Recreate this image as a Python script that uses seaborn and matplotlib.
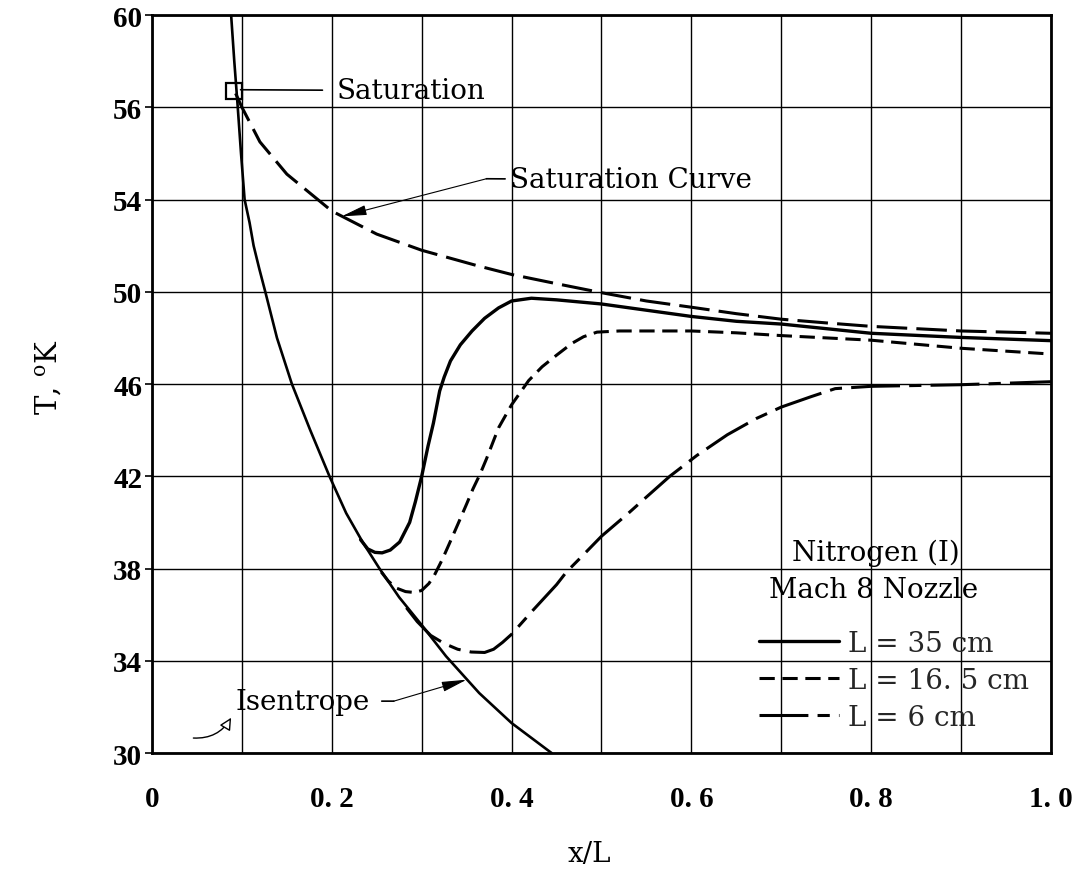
import numpy as np
import pandas as pd
import matplotlib
matplotlib.use("Agg")
import matplotlib.pyplot as plt
from matplotlib.ticker import MultipleLocator
import seaborn as sns

# ---- data: x/L and temperature (K) along each curve -----------------------
isen_x = [0.0880, 0.0915, 0.0950, 0.0990, 0.1030, 0.1085, 0.1130, 0.1193,
          0.1260, 0.1390, 0.1556, 0.1760, 0.1974, 0.2160, 0.2344, 0.2530,
          0.2750, 0.3000, 0.3270, 0.3640, 0.4000, 0.4445]
isen_T = [62.0, 60.0, 58.2, 56.0, 54.0, 53.0, 52.0, 51.0,
          50.0, 48.0, 46.0, 44.0, 42.0, 40.4, 39.14, 38.0,
          36.75, 35.55, 34.2, 32.6, 31.3, 30.0]

sat_x = [0.093, 0.100, 0.120, 0.150, 0.200, 0.250, 0.300, 0.360, 0.400,
         0.450, 0.500, 0.550, 0.600, 0.650, 0.700, 0.750, 0.800, 0.900, 1.000]
sat_T = [58.6, 58.0, 56.5, 55.1, 53.5, 52.5, 51.8, 51.15, 50.75,
         50.35, 49.96, 49.6, 49.33, 49.05, 48.81, 48.65, 48.5, 48.3, 48.2]

l35_x = [0.232, 0.240, 0.248, 0.256, 0.265, 0.2755, 0.2866, 0.293, 0.300,
         0.307, 0.313, 0.320, 0.325, 0.332, 0.343, 0.356, 0.370, 0.3855,
         0.400, 0.422, 0.450, 0.500, 0.550, 0.600, 0.650, 0.700, 0.750,
         0.800, 0.900, 1.000]
l35_T = [39.25, 38.85, 38.7, 38.68, 38.8, 39.15, 40.0, 40.9, 42.0,
         43.3, 44.3, 45.7, 46.3, 47.0, 47.7, 48.3, 48.85, 49.3,
         49.6, 49.72, 49.65, 49.47, 49.2, 48.93, 48.72, 48.6, 48.4,
         48.2, 48.02, 47.88]

l165_x = [0.255, 0.263, 0.272, 0.282, 0.292, 0.300, 0.308, 0.314, 0.323,
          0.331, 0.340, 0.350, 0.357, 0.365, 0.372, 0.3855, 0.400, 0.419,
          0.434, 0.450, 0.467, 0.480, 0.495, 0.520, 0.600, 0.650, 0.700,
          0.800, 0.900, 1.000]
l165_T = [37.85, 37.45, 37.15, 37.0, 36.96, 37.05, 37.35, 37.7, 38.4,
          39.1, 39.9, 40.8, 41.45, 42.1, 42.75, 44.1, 45.1, 46.15,
          46.75, 47.25, 47.76, 48.05, 48.25, 48.3, 48.3, 48.22, 48.1,
          47.9, 47.55, 47.3]

l6_x = [0.283, 0.295, 0.310, 0.325, 0.340, 0.355, 0.370, 0.380, 0.390,
        0.400, 0.424, 0.450, 0.461, 0.475, 0.500, 0.530, 0.550, 0.576,
        0.606, 0.640, 0.672, 0.700, 0.733, 0.760, 0.800, 0.900, 1.000]
l6_T = [36.3, 35.7, 35.1, 34.75, 34.5, 34.38, 34.36, 34.5, 34.8,
        35.15, 36.2, 37.3, 37.85, 38.4, 39.4, 40.4, 41.1, 42.0,
        42.9, 43.8, 44.5, 45.0, 45.45, 45.8, 45.9, 45.97, 46.1]

# onset of condensation on the isentrope
sat_onset_x = [0.0916]
sat_onset_T = [58.72]

x_ticks = [0.0, 0.2, 0.4, 0.6, 0.8, 1.0]
x_ticklabels = ["0", "0. 2", "0. 4", "0. 6", "0. 8", "1. 0"]
y_ticks = [30, 34, 38, 42, 46, 50, 54, 58, 62]
y_ticklabels = ["30", "34", "38", "42", "46", "50", "54", "56", "60"]
series_labels = ["L = 35 cm", "L = 16. 5 cm", "L = 6 cm"]

# ---- style ------------------------------------------------------------------
sns.set_theme(style="white")
plt.rcParams["font.family"] = ["DejaVu Serif"]
plt.rcParams["mathtext.fontset"] = "dejavuserif"

fig = plt.figure(figsize=(10.82, 8.70), dpi=100)
ax = fig.add_axes([0.1405, 0.1333, 0.8308, 0.8483])

ax.set_xlim(0, 1.0)
ax.set_ylim(30, 62)

ax.set_xticks(x_ticks)
ax.set_xticklabels(x_ticklabels)
ax.xaxis.set_minor_locator(MultipleLocator(0.1))
ax.set_yticks(y_ticks)
ax.set_yticklabels(y_ticklabels)
for lab in ax.get_xticklabels() + ax.get_yticklabels():
    lab.set_fontfamily("Liberation Serif")
    lab.set_fontweight("bold")
    lab.set_fontsize(21)
ax.tick_params(axis="x", which="both", length=0, pad=23, colors="black")
ax.tick_params(axis="y", which="major", length=5, width=1.2, pad=2,
               direction="out", left=True, colors="black")

ax.grid(which="both", color="black", linewidth=1.0)
ax.set_axisbelow(True)
for sp in ax.spines.values():
    sp.set_color("black")
    sp.set_linewidth(2.0)


def draw(x, y, **kw):
    sns.lineplot(x=x, y=y, ax=ax, color="black", estimator=None,
                 sort=False, **kw)
    return ax.lines[-1]


draw(isen_x, isen_T, linewidth=1.9, linestyle="-")
draw(sat_x, sat_T, linewidth=2.2, linestyle=(0, (10, 3)))
h35 = draw(l35_x, l35_T, linewidth=2.4, linestyle="-")
h165 = draw(l165_x, l165_T, linewidth=2.2, linestyle=(0, (5, 2.5)))
h6 = draw(l6_x, l6_T, linewidth=2.2, linestyle=(0, (16, 3, 4, 3)))

ax.plot(sat_onset_x, sat_onset_T, marker="s", ms=12, mfc="none",
        mec="black", mew=1.6, linestyle="none")

txt = dict(fontsize=20, color="black")

# "Saturation" call-out
ax.annotate("Saturation", xy=(0.0985, sat_onset_T[0] + 0.04),
            xytext=(0.2056, sat_onset_T[0]), ha="left", va="center",
            arrowprops=dict(arrowstyle="-", lw=1.2, color="black",
                            shrinkA=8, shrinkB=0), **txt)

# "Saturation Curve" call-out
ax.annotate("Saturation Curve", xy=(0.372, 54.9), xytext=(0.398, 54.86),
            ha="left", va="center",
            arrowprops=dict(arrowstyle="-", lw=1.2, color="black",
                            shrinkA=1, shrinkB=0), **txt)
ax.annotate("", xy=(0.211, 53.27), xytext=(0.372, 54.9),
            arrowprops=dict(arrowstyle="-|>,head_length=1.1,head_width=0.22",
                            lw=0.8, color="black", mutation_scale=14,
                            shrinkA=0, shrinkB=0))

# "Isentrope" call-out
ax.annotate("Isentrope", xy=(0.269, 32.25), xytext=(0.0933, 32.25),
            ha="left", va="center",
            arrowprops=dict(arrowstyle="-", lw=1.2, color="black",
                            shrinkA=6, shrinkB=0), **txt)
ax.annotate("", xy=(0.350, 33.18), xytext=(0.269, 32.25),
            arrowprops=dict(arrowstyle="-|>,head_length=1.1,head_width=0.22",
                            lw=0.8, color="black", mutation_scale=14,
                            shrinkA=0, shrinkB=0))

# small pointer near the origin
ax.annotate("", xy=(0.088, 31.53), xytext=(0.046, 30.65),
            arrowprops=dict(arrowstyle="-|>,head_length=0.6,head_width=0.3",
                            fc="white", ec="black", lw=1.0,
                            mutation_scale=12,
                            connectionstyle="arc3,rad=0.3",
                            shrinkA=0, shrinkB=0))

# legend block
ax.text(0.805, 38.72, "Nitrogen (I)", ha="center", va="center", **txt)
ax.text(0.803, 37.10, "Mach 8 Nozzle", ha="center", va="center", **txt)
ax.legend([h35, h165, h6], series_labels, loc="upper left",
          bbox_to_anchor=(0.675, 35.35), bbox_transform=ax.transData,
          frameon=False, fontsize=20, handlelength=2.9, handletextpad=0.3,
          labelspacing=0.36, borderpad=0, borderaxespad=0)

ax.set_xlabel("x/L", fontsize=20, color="black")
ax.xaxis.set_label_coords(0.487, -0.118)
ax.set_ylabel("T, $^{\\mathregular{o}}$K", fontsize=21, color="black")
ax.yaxis.set_label_coords(-0.098, 0.51)

fig.savefig("out.png", dpi=100)
